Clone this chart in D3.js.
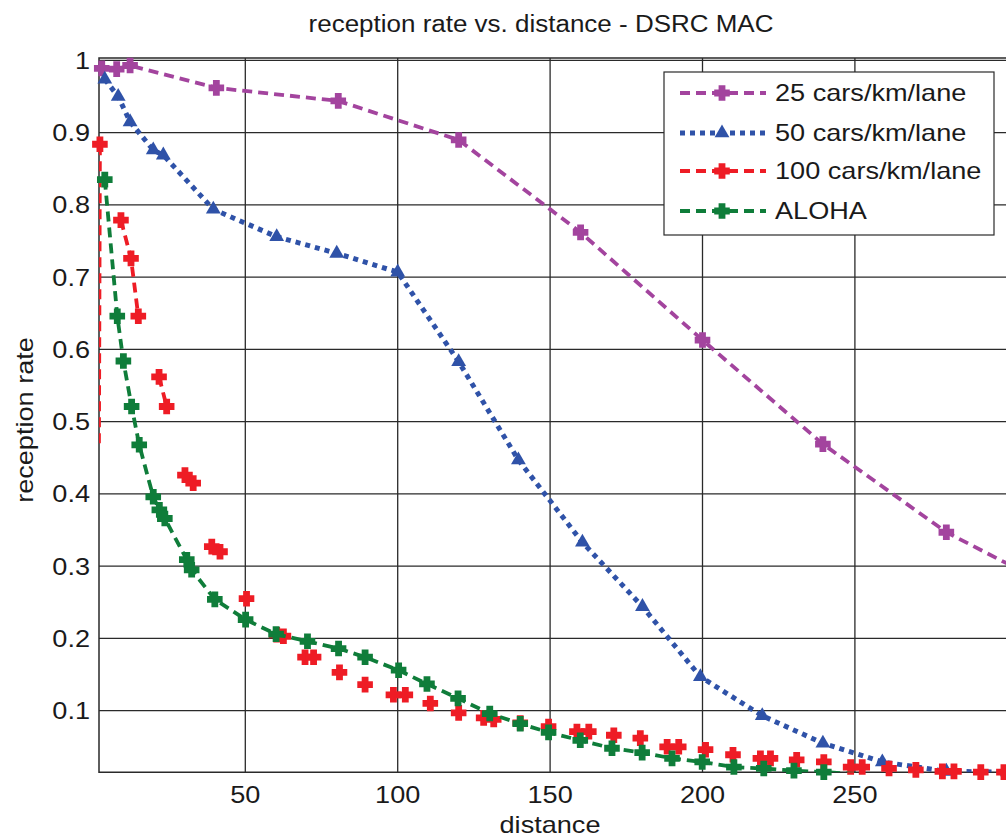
<!DOCTYPE html>
<html>
<head>
<meta charset="utf-8">
<script src="https://cdn.jsdelivr.net/npm/d3@7"></script>
<style>
  body { margin: 0; background: #fff; }
  svg text { font-family: "Liberation Sans", Arial, sans-serif; fill: #1a1a1a; }
</style>
</head>
<body>
<div id="chart"></div>
<script>
    // distances and reception rates
    const dist25 = [2.9, 7.8, 12.2, 40.5, 80.5, 120, 160, 200, 239.5, 280, 320];
    const rate25 = [0.989, 0.988, 0.993, 0.962, 0.944, 0.89, 0.762, 0.613, 0.469, 0.347, 0.26];

    const dist50 = [3.9, 8.3, 12.2, 19.8, 23.1, 39.5, 60.3, 80, 100, 120, 139.6, 160.6, 180.3, 199.3, 219.6, 239.5, 259, 280, 300];
    const rate50 = [0.974, 0.95, 0.915, 0.876, 0.869, 0.794, 0.756, 0.733, 0.707, 0.583, 0.447, 0.333, 0.244, 0.147, 0.093, 0.055, 0.029, 0.016, 0.015];

    // null = break in the line
    const dist100 = [1.98, 2.3, null, 9.2, 12.5, 14.9, null, 21.7, 24.2, null, 30.2, 32.9, null, 39, 41.7, null, 50.4, null,
        60.3, 62.5, null, 69.6, 72.4, null, 80.9, null, 89.3, null, 98.6, 102.5, null, 110.7, null, 120, null, 128.2, 131.5, null,
        140.2, null, 149.5, null, 158.8, 162.7, null, 170.9, null, 179.6, null, 188.4, 192.2, null, 201, null, 210, null,
        219, 222.3, null, 230.9, null, 239.8, null, 248.6, 252.4, null, 261.2, null, 270, null, 278.7, 282.5, null, 291.3, null, 298.9];
    const rate100 = [0.47, 0.884, null, 0.779, 0.726, 0.646, null, 0.562, 0.521, null, 0.426, 0.415, null, 0.327, 0.32, null, 0.255, null,
        0.205, 0.203, null, 0.174, 0.174, null, 0.153, null, 0.136, null, 0.122, 0.122, null, 0.110, null, 0.097, null, 0.09, 0.088, null,
        0.083, null, 0.078, null, 0.071, 0.071, null, 0.066, null, 0.062, null, 0.050, 0.050, null, 0.046, null, 0.039, null,
        0.034, 0.034, null, 0.032, null, 0.029, null, 0.022, 0.022, null, 0.020, null, 0.018, null, 0.016, 0.016, null, 0.015, null, 0.015];

    const distAloha = [3.9, 8, 10, 12.7, 15.2, 19.8, 21.8, 23.6, 30.8, 32.4, 40, 50.1, 60.1, 70.4, 80.6, 89.3, 100.3, 109.6, 119.8,
        130.2, 140.2, 149.5, 159.9, 170.3, 180.2, 190, 199.9, 210.3, 220.1, 230, 239.8, 252];
    const rateAloha = [0.835, 0.646, 0.584, 0.521, 0.468, 0.396, 0.378, 0.366, 0.309, 0.295, 0.254, 0.226, 0.206, 0.196, 0.186,
        0.174, 0.156, 0.137, 0.117, 0.096, 0.082, 0.070, 0.059, 0.048, 0.042, 0.034, 0.029, 0.022, 0.020, 0.017, 0.015, 0.012];

    const xTicks = [50, 100, 150, 200, 250];
    const yTicks = [0.1, 0.2, 0.3, 0.4, 0.5, 0.6, 0.7, 0.8, 0.9, 1];
    const seriesNames = ["25 cars/km/lane", "50 cars/km/lane", "100 cars/km/lane", "ALOHA"];

    const width = 1006;
    const height = 839;
    const plot = { left: 99, right: 1007.3, top: 58, bottom: 772.3 };
    const stretch = 1.13; // text in the figure is a bit wide

    const x = d3.scaleLinear().domain([2, 300]).range([plot.left, plot.right]);
    const y = d3.scaleLinear().domain([0.0147, 1.0034]).range([plot.bottom, plot.top]);

    // chunky plus marker
    const plus = (h, a) => `M${-a},${-h}H${a}V${-a}H${h}V${a}H${a}V${h}H${-a}V${a}H${-h}V${-a}H${-a}Z`;
    const cross = plus(7.8, 3.4);
    const tri = d3.symbol().type(d3.symbolTriangle).size(95)();

    const series = [
        { name: seriesNames[0], d: dist25, r: rate25, color: "#a3449e", dash: "10,6", width: 3.8, marker: cross },
        { name: seriesNames[1], d: dist50, r: rate50, color: "#2f52a8", dash: "5,5", width: 5, marker: tri },
        { name: seriesNames[2], d: dist100, r: rate100, color: "#ee1c25", dash: "10,6", width: 3.8, marker: cross },
        { name: seriesNames[3], d: distAloha, r: rateAloha, color: "#0f7d3a", dash: "10,6", width: 3.8, marker: cross }
    ];

    const svg = d3.select("#chart").append("svg")
        .attr("width", width)
        .attr("height", height);

    svg.append("defs").append("clipPath").attr("id", "plotclip")
        .append("rect")
        .attr("x", plot.left).attr("y", plot.top)
        .attr("width", plot.right - plot.left).attr("height", plot.bottom - plot.top);

    function label(g, tx, ty, str, size, anchor, rot) {
        return g.append("text")
            .attr("transform", `translate(${tx},${ty}) rotate(${rot || 0}) scale(${stretch},1)`)
            .attr("dy", "0.35em")
            .attr("text-anchor", anchor)
            .attr("font-size", size)
            .text(str);
    }

    // grid
    const grid = svg.append("g").attr("stroke", "#2a2a2a").attr("stroke-width", 1.3);
    grid.selectAll("line.gx").data(xTicks).join("line")
        .attr("x1", d => x(d)).attr("x2", d => x(d))
        .attr("y1", plot.top).attr("y2", plot.bottom);
    grid.selectAll("line.gy").data(yTicks).join("line")
        .attr("x1", plot.left).attr("x2", plot.right)
        .attr("y1", d => y(d)).attr("y2", d => y(d));

    // frame (left, top, bottom)
    svg.append("path")
        .attr("d", `M${plot.right},${plot.top}H${plot.left}V${plot.bottom}H${plot.right}`)
        .attr("fill", "none").attr("stroke", "#2a2a2a").attr("stroke-width", 1.5);

    // tick labels
    const axisText = svg.append("g");
    yTicks.forEach(d => label(axisText, 90, y(d), d === 1 ? "1" : d3.format(".1f")(d), 24, "end"));
    xTicks.forEach(d => label(axisText, x(d), 795, d, 24, "middle"));

    label(axisText, 550, 825, "distance", 24, "middle");
    label(axisText, 25, 420, "reception rate", 24, "middle", -90);
    label(axisText, 541, 24, "reception rate vs. distance - DSRC MAC", 23, "middle");

    // series
    const line = d3.line()
        .defined(p => p[0] !== null)
        .x(p => x(p[0]))
        .y(p => y(p[1]));

    for (let s of series) {
        const pts = s.d.map((d, i) => [d, s.r[i]]);
        const grp = svg.append("g");
        grp.append("path")
            .datum(pts)
            .attr("clip-path", "url(#plotclip)")
            .attr("d", line)
            .attr("fill", "none")
            .attr("stroke", s.color)
            .attr("stroke-width", s.width)
            .attr("stroke-dasharray", s.dash);

        const inside = pts.filter(p => p[0] !== null && p[0] >= 2 && p[0] <= 300 && p[1] >= 0.0145);
        grp.selectAll("path.mk")
            .data(inside).join("path")
            .attr("class", "mk")
            .attr("d", s.marker)
            .attr("transform", p => `translate(${x(p[0])},${y(p[1])})`)
            .attr("fill", s.color);
    }

    // legend
    const legend = svg.append("g");
    legend.append("rect")
        .attr("x", 664).attr("y", 72).attr("width", 330).attr("height", 163)
        .attr("fill", "#fff").attr("stroke", "#2a2a2a").attr("stroke-width", 1.2);

    const rowY = [93, 133, 171, 211];
    series.forEach((s, i) => {
        legend.append("line")
            .attr("x1", 680).attr("x2", 766)
            .attr("y1", rowY[i]).attr("y2", rowY[i])
            .attr("stroke", s.color)
            .attr("stroke-width", s.width)
            .attr("stroke-dasharray", s.dash);
        legend.append("path")
            .attr("d", s.marker)
            .attr("transform", `translate(722,${rowY[i]})`)
            .attr("fill", s.color);
        label(legend, 775, rowY[i], s.name, 24, "start");
    });
</script>
</body>
</html>
